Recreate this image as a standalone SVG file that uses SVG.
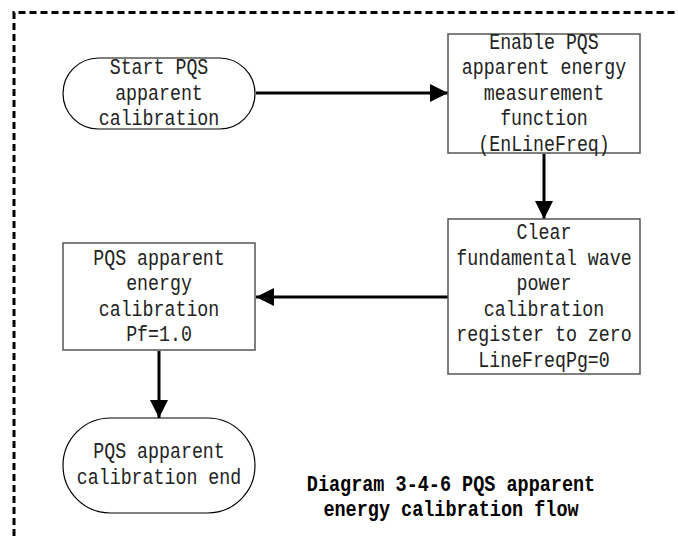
<svg xmlns="http://www.w3.org/2000/svg" width="678" height="536" viewBox="0 0 678 536">
<style>
.frame{fill:none;stroke:#000;stroke-width:3;stroke-dasharray:7 4}
.term{fill:#fff;stroke:#000;stroke-width:1.2}
.box{fill:#fff;stroke:#555;stroke-width:1.5}
.lbl{font-family:"Liberation Mono","DejaVu Sans Mono",monospace;font-size:21.5px;fill:#222;text-anchor:middle}
.cap{font-family:"Liberation Mono","DejaVu Sans Mono",monospace;font-size:21.5px;font-weight:bold;fill:#000;text-anchor:middle}
.conn{fill:none;stroke:#000;stroke-width:3}
</style>
<defs>
<marker id="ah" markerUnits="userSpaceOnUse" markerWidth="18" markerHeight="18" refX="18" refY="9" orient="auto">
<path d="M0,0 L18,9 L0,18 Z" fill="#000"/>
</marker>
</defs>
<rect width="678" height="536" fill="#fff"/>
<path class="frame" d="M14,536 V12.5 H678"/>

<g id="connectors">
<line class="conn" x1="256" y1="93" x2="448" y2="93" marker-end="url(#ah)"/>
<line class="conn" x1="544" y1="154" x2="544" y2="219" marker-end="url(#ah)"/>
<line class="conn" x1="448" y1="297" x2="256" y2="297" marker-end="url(#ah)"/>
<line class="conn" x1="159" y1="351" x2="159" y2="418" marker-end="url(#ah)"/>
</g>

<g id="start">
<rect class="term" x="63" y="58" width="192" height="71" rx="35.5" ry="35.5"/>
<g transform="translate(159,0) scale(0.85,1)">
<text class="lbl" x="0" y="74.5">Start PQS</text>
<text class="lbl" x="0" y="100">apparent</text>
<text class="lbl" x="0" y="125.5">calibration</text>
</g>
</g>

<g id="enable">
<rect class="box" x="448" y="34" width="192" height="119"/>
<g transform="translate(544,0) scale(0.85,1)">
<text class="lbl" x="0" y="49">Enable PQS</text>
<text class="lbl" x="0" y="74.5">apparent energy</text>
<text class="lbl" x="0" y="100">measurement</text>
<text class="lbl" x="0" y="125.5">function</text>
<text class="lbl" x="0" y="151">(EnLineFreq)</text>
</g>
</g>

<g id="clear">
<rect class="box" x="448" y="219" width="192" height="155"/>
<g transform="translate(544,0) scale(0.85,1)">
<text class="lbl" x="0" y="239.5">Clear</text>
<text class="lbl" x="0" y="265">fundamental wave</text>
<text class="lbl" x="0" y="290.5">power</text>
<text class="lbl" x="0" y="316">calibration</text>
<text class="lbl" x="0" y="341.5">register to zero</text>
<text class="lbl" x="0" y="367">LineFreqPg=0</text>
</g>
</g>

<g id="calib">
<rect class="box" x="63" y="243" width="192" height="107"/>
<g transform="translate(159,0) scale(0.85,1)">
<text class="lbl" x="0" y="265">PQS apparent</text>
<text class="lbl" x="0" y="290.5">energy</text>
<text class="lbl" x="0" y="316">calibration</text>
<text class="lbl" x="0" y="341.5">Pf=1.0</text>
</g>
</g>

<g id="end">
<rect class="term" x="63" y="418" width="192" height="95" rx="47.5" ry="47.5"/>
<g transform="translate(159,0) scale(0.85,1)">
<text class="lbl" x="0" y="458">PQS apparent</text>
<text class="lbl" x="0" y="484">calibration end</text>
</g>
</g>

<g id="caption" transform="translate(451,0) scale(0.86,1)">
<text class="cap" x="0" y="491">Diagram 3-4-6 PQS apparent</text>
<text class="cap" x="0" y="516">energy calibration flow</text>
</g>
</svg>
